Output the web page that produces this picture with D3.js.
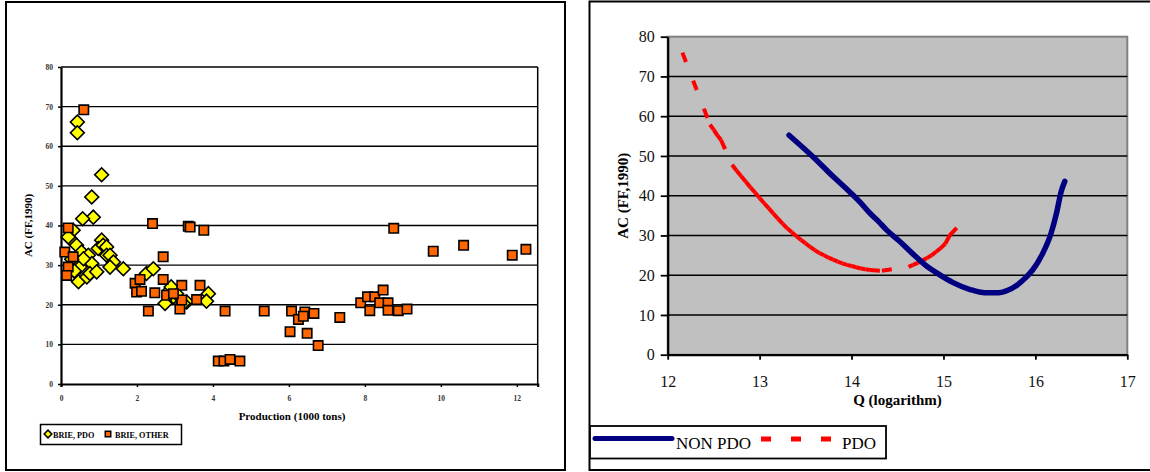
<!DOCTYPE html>
<html>
<head>
<meta charset="utf-8">
<script src="https://cdn.jsdelivr.net/npm/d3@7"></script>
<style>
  body { margin: 0; background: #fff; }
  svg { display: block; }
</style>
</head>
<body>
<svg id="chart" width="1150" height="472"></svg>
<script>
// LEFT PANEL DATA: production (1000 tons) vs AC
const pdoProd = [0.43, 0.43, 1.07, 0.81, 0.85, 0.57, 0.32, 0.24, 1.07, 0.19, 0.41, 0.54, 0.46, 0.72, 0.81, 0.68, 0.76, 0.94, 0.98, 1.11,
  1.20, 1.20, 1.29, 1.38, 1.29, 1.64, 0.37, 0.50, 0.59, 0.28, 0.35, 2.25, 2.43, 2.74, 2.87, 2.96, 3.04, 3.31, 3.22, 3.88, 3.83, 2.90];
const pdoAC = [66.1, 63.4, 52.8, 47.2, 42.1, 41.7, 38.8, 36.7, 36.3, 37.1, 35.0, 33.3, 25.8, 32.5, 30.4, 27.0, 27.9, 28.3, 34.2, 35.0,
  34.6, 32.5, 32.5, 30.8, 29.5, 29.1, 30.4, 29.5, 31.6, 31.5, 28.5, 27.9, 29.1, 20.3, 23.7, 22.0, 22.8, 20.7, 20.3, 22.8, 20.9, 24.5];
const otherProd = [0.19, 0.60, 2.41, 3.35, 3.40, 3.76, 8.76, 0.10, 0.19, 0.15, 0.32, 2.69, 1.95, 2.08, 1.99, 2.12, 2.47, 2.30, 2.69, 2.78,
  3.18, 3.66, 3.13, 3.18, 3.57, 2.96, 4.32, 5.35, 6.07, 6.03, 6.25, 6.42, 6.38, 6.66, 6.48, 6.77, 4.14, 4.29, 4.45, 4.71,
  7.34, 7.89, 8.07, 8.13, 8.26, 8.39, 8.48, 8.61, 8.61, 8.88, 9.11, 9.80, 10.60, 11.88, 12.24];
const otherAC = [39.4, 69.2, 40.5, 39.8, 39.6, 38.8, 39.3, 33.3, 29.5, 27.4, 32.1, 32.1, 25.4, 26.4, 23.2, 23.4, 23.0, 18.4, 26.4, 22.4,
  24.9, 24.9, 18.9, 21.2, 21.3, 22.8, 18.4, 18.4, 18.4, 13.2, 16.3, 18.2, 17.1, 17.8, 12.8, 9.7, 5.8, 5.8, 6.2, 5.8,
  16.8, 20.5, 22.0, 18.5, 22.0, 20.5, 23.7, 20.5, 18.6, 18.5, 18.9, 33.5, 35.0, 32.5, 34.0];
const prodTicks = [0, 2, 4, 6, 8, 10, 12];
const acTicks = [0, 10, 20, 30, 40, 50, 60, 70, 80];

// RIGHT PANEL DATA: Q (logarithm) vs AC
const nonPdoQ = [13.32, 13.58, 13.80, 13.95, 14.10, 14.20, 14.29, 14.38, 14.51, 14.67, 14.80, 14.96, 15.10, 15.29, 15.45,
  15.60, 15.70, 15.80, 15.90, 15.97, 16.08, 16.17, 16.23, 16.28, 16.32];
const nonPdoAC = [55.2, 49.8, 44.8, 41.6, 38.2, 35.6, 33.6, 31.4, 28.8, 25.3, 22.6, 20.1, 18.2, 16.4, 15.6,
  15.6, 16.2, 17.5, 19.5, 21.3, 25.5, 30.5, 35.6, 41.0, 43.6];
const pdoQ = [12.16, 12.46, 12.50, 12.54, 12.58, 12.70, 12.75, 12.80, 12.85, 12.90, 12.95, 13.00, 13.05, 13.10, 13.15, 13.20,
  13.25, 13.30, 13.35, 13.40, 13.45, 13.50, 13.55, 13.60, 13.65, 13.70, 13.75, 13.80, 13.85, 13.90, 13.95, 14.00,
  14.05, 14.10, 14.15, 14.20, 14.33, 14.62, 14.67, 14.72, 14.77, 14.82, 14.87, 14.92, 14.97, 15.02, 15.07, 15.18];
const pdoCurveAC = [76.0, 57.9, 56.6, 55.2, 54.0, 47.8, 46.3, 44.9, 43.5, 42.1, 40.8, 39.4, 38.1, 36.8, 35.5, 34.2,
  33.0, 31.8, 30.8, 29.8, 28.9, 28.0, 27.1, 26.3, 25.6, 25.0, 24.4, 23.9, 23.4, 23.0, 22.6, 22.3,
  22.0, 21.7, 21.5, 21.3, 21.1, 22.1, 22.6, 23.1, 23.7, 24.3, 25.0, 25.9, 26.8, 27.9, 30.1, 32.8];
const qTicks = [12, 13, 14, 15, 16, 17];

const svg = d3.select("#chart");
const serif = "'Liberation Serif', 'Times New Roman', serif";

// panel frames
svg.append("rect")
    .attr("x", 6).attr("y", 2)
    .attr("width", 559).attr("height", 468)
    .attr("fill", "none")
    .attr("stroke", "#000")
    .attr("stroke-width", 2);

svg.append("rect")
    .attr("x", 589.5).attr("y", 1.5)
    .attr("width", 600).attr("height", 468.5)
    .attr("fill", "none")
    .attr("stroke", "#000")
    .attr("stroke-width", 2);

//LEFT CHART
const lx = d3.scaleLinear().domain([0, 12.55]).range([61, 537.7]);
const ly = d3.scaleLinear().domain([0, 80]).range([384, 67]);

const left = svg.append("g");

left.append("g")
    .attr("stroke", "#000")
    .attr("stroke-width", 1.3)
  .selectAll("line")
    .data(acTicks.slice(1))
    .join("line")
    .attr("x1", lx(0)).attr("x2", lx.range()[1])
    .attr("y1", d => ly(d)).attr("y2", d => ly(d));

left.append("line")
    .attr("x1", lx.range()[1]).attr("x2", lx.range()[1])
    .attr("y1", ly(80)).attr("y2", ly(0))
    .attr("stroke", "#000").attr("stroke-width", 1.5);

const lyAxis = left.append("g")
    .attr("transform", `translate(${lx(0)},0)`)
    .call(d3.axisLeft(ly).tickValues(acTicks).tickSize(3).tickPadding(5).tickSizeOuter(0));
lyAxis.select(".domain").attr("stroke-width", 2.2);
lyAxis.selectAll("line").attr("stroke-width", 1.5);
lyAxis.selectAll("text")
    .attr("font-family", serif).attr("font-weight", "bold")
    .attr("font-size", 7.5).attr("fill", "#333");

const lxAxis = left.append("g")
    .attr("transform", `translate(0,${ly(0)})`)
    .call(d3.axisBottom(lx).tickValues(prodTicks).tickFormat(d3.format("d")).tickSize(3).tickPadding(9).tickSizeOuter(3));
lxAxis.select(".domain").attr("stroke-width", 2.2);
lxAxis.selectAll("line").attr("stroke-width", 1.5);
lxAxis.selectAll("text")
    .attr("font-family", serif).attr("font-weight", "bold")
    .attr("font-size", 7.5).attr("fill", "#333");

const diamond = d3.symbol().type(d3.symbolSquare).size(96);
const square = d3.symbol().type(d3.symbolSquare).size(88);

left.append("g")
  .selectAll("path")
    .data(d3.zip(pdoProd, pdoAC))
    .join("path")
    .attr("d", diamond)
    .attr("transform", d => `translate(${lx(d[0])},${ly(d[1])}) rotate(45)`)
    .attr("fill", "#ffff00")
    .attr("stroke", "#000")
    .attr("stroke-width", 1.6);

left.append("g")
  .selectAll("path")
    .data(d3.zip(otherProd, otherAC))
    .join("path")
    .attr("d", square)
    .attr("transform", d => `translate(${lx(d[0])},${ly(d[1])})`)
    .attr("fill", "#ff6600")
    .attr("stroke", "#000")
    .attr("stroke-width", 1.6);

left.append("text")
    .attr("x", 292).attr("y", 420)
    .attr("text-anchor", "middle")
    .attr("font-family", serif).attr("font-weight", "bold").attr("font-size", 11)
    .text("Production (1000 tons)");

left.append("text")
    .attr("transform", `translate(32,${(ly(0) + ly(80)) / 2}) rotate(-90)`)
    .attr("text-anchor", "middle")
    .attr("font-family", serif).attr("font-weight", "bold").attr("font-size", 11)
    .text("AC (FF,1990)");

// left legend
const lLeg = left.append("g");
lLeg.append("rect")
    .attr("x", 40.5).attr("y", 424.5)
    .attr("width", 141).attr("height", 20)
    .attr("fill", "#fff").attr("stroke", "#000").attr("stroke-width", 1.5);
lLeg.append("path")
    .attr("d", d3.symbol().type(d3.symbolSquare).size(30))
    .attr("transform", "translate(48,434) rotate(45)")
    .attr("fill", "#ffff00").attr("stroke", "#000").attr("stroke-width", 1.5);
lLeg.append("text")
    .attr("x", 53).attr("y", 437.5)
    .attr("font-family", serif).attr("font-weight", "bold").attr("font-size", 8.2)
    .text("BRIE,  PDO");
lLeg.append("path")
    .attr("d", d3.symbol().type(d3.symbolSquare).size(30))
    .attr("transform", "translate(108,434)")
    .attr("fill", "#ff6600").attr("stroke", "#000").attr("stroke-width", 1.5);
lLeg.append("text")
    .attr("x", 115).attr("y", 437.5)
    .attr("font-family", serif).attr("font-weight", "bold").attr("font-size", 8.2)
    .text("BRIE, OTHER");

//RIGHT CHART
const rx = d3.scaleLinear().domain([12, 17]).range([667.7, 1127.3]);
const ry = d3.scaleLinear().domain([0, 80]).range([354.7, 36.7]);

const right = svg.append("g");

right.append("rect")
    .attr("x", rx(12)).attr("y", ry(80))
    .attr("width", rx(17) - rx(12)).attr("height", ry(0) - ry(80))
    .attr("fill", "#c0c0c0")
    .attr("stroke", "#808080")
    .attr("stroke-width", 2);

right.append("g")
    .attr("stroke", "#000")
    .attr("stroke-width", 1.6)
  .selectAll("line")
    .data(acTicks.slice(1, -1))
    .join("line")
    .attr("x1", rx(12)).attr("x2", rx(17))
    .attr("y1", d => ry(d)).attr("y2", d => ry(d));

const ryAxis = right.append("g")
    .attr("transform", `translate(${rx(12)},0)`)
    .call(d3.axisLeft(ry).tickValues(acTicks).tickSize(7).tickPadding(6).tickSizeOuter(0));
ryAxis.select(".domain").attr("stroke-width", 2.2);
ryAxis.selectAll("line").attr("stroke-width", 1.8);
ryAxis.selectAll("text")
    .attr("font-family", serif).attr("font-size", 16).attr("fill", "#111");

const rxAxis = right.append("g")
    .attr("transform", `translate(0,${ry(0)})`)
    .call(d3.axisBottom(rx).tickValues(qTicks).tickFormat(d3.format("d")).tickSize(5).tickPadding(16).tickSizeOuter(0));
rxAxis.select(".domain").attr("stroke-width", 2.2);
rxAxis.selectAll("line").attr("stroke-width", 1.8);
rxAxis.selectAll("text")
    .attr("font-family", serif).attr("font-size", 16).attr("fill", "#111");

// PDO: each segment dashed on its own, like the original plot
right.append("g")
    .attr("stroke", "#ff0000")
    .attr("stroke-width", 4)
    .attr("stroke-dasharray", "10,20")
  .selectAll("line")
    .data(d3.pairs(d3.zip(pdoQ, pdoCurveAC)))
    .join("line")
    .attr("x1", d => rx(d[0][0])).attr("y1", d => ry(d[0][1]))
    .attr("x2", d => rx(d[1][0])).attr("y2", d => ry(d[1][1]));

right.append("path")
    .datum(d3.zip(nonPdoQ, nonPdoAC))
    .attr("fill", "none")
    .attr("stroke", "#000080")
    .attr("stroke-width", 5.5)
    .attr("stroke-linecap", "round")
    .attr("stroke-linejoin", "round")
    .attr("d", d3.line().x(d => rx(d[0])).y(d => ry(d[1])).curve(d3.curveMonotoneX));

right.append("text")
    .attr("x", (rx(12) + rx(17)) / 2).attr("y", 405)
    .attr("text-anchor", "middle")
    .attr("font-family", serif).attr("font-weight", "bold").attr("font-size", 15)
    .text("Q (logarithm)");

right.append("text")
    .attr("transform", `translate(628,${(ry(0) + ry(80)) / 2}) rotate(-90)`)
    .attr("text-anchor", "middle")
    .attr("font-family", serif).attr("font-weight", "bold").attr("font-size", 15)
    .text("AC (FF,1990)");

// right legend
const rLeg = right.append("g");
rLeg.append("rect")
    .attr("x", 590).attr("y", 426)
    .attr("width", 296).attr("height", 32.5)
    .attr("fill", "#fff").attr("stroke", "#000").attr("stroke-width", 1.8);
rLeg.append("line")
    .attr("x1", 595).attr("x2", 672).attr("y1", 438.5).attr("y2", 438.5)
    .attr("stroke", "#000080").attr("stroke-width", 5).attr("stroke-linecap", "round");
rLeg.append("text")
    .attr("x", 676).attr("y", 449)
    .attr("font-family", serif).attr("font-size", 17)
    .text("NON PDO");
rLeg.append("line")
    .attr("x1", 761).attr("x2", 832).attr("y1", 439).attr("y2", 439)
    .attr("stroke", "#ff0000").attr("stroke-width", 5).attr("stroke-dasharray", "10,20");
rLeg.append("text")
    .attr("x", 842).attr("y", 449)
    .attr("font-family", serif).attr("font-size", 17)
    .text("PDO");
</script>
</body>
</html>
